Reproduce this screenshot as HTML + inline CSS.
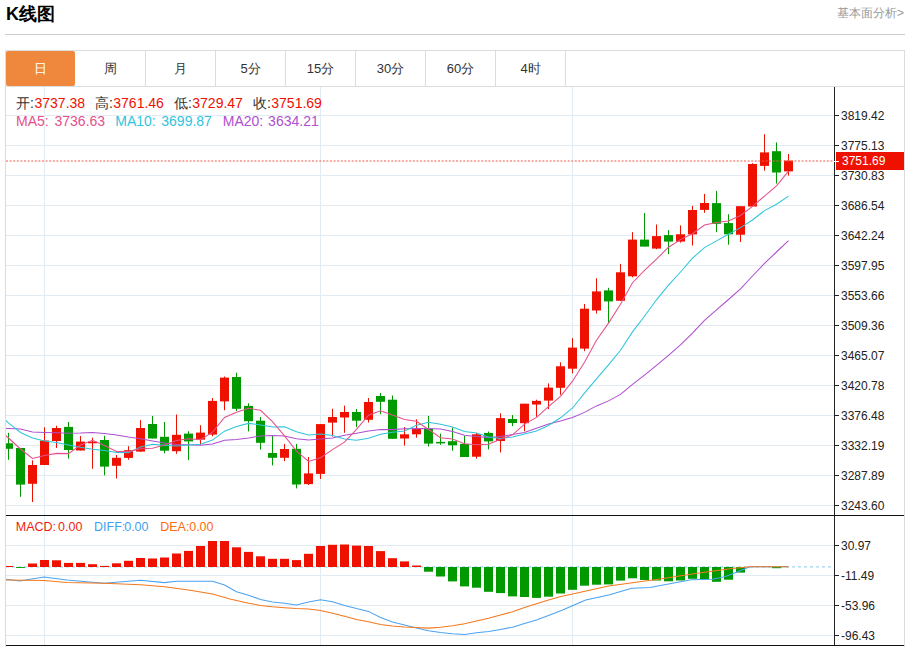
<!DOCTYPE html>
<html><head><meta charset="utf-8">
<style>
html,body{margin:0;padding:0;background:#fff;}
body{width:912px;height:647px;position:relative;overflow:hidden;font-family:"Liberation Sans",sans-serif;}
.title{position:absolute;left:6px;top:3px;font-size:18px;font-weight:bold;color:#000;line-height:22px;}
.more{position:absolute;right:8px;top:5px;font-size:12px;color:#999;line-height:16px;}
.hr{position:absolute;left:5px;top:34px;width:900px;height:1px;background:#cccccc;}
.box{position:absolute;left:5px;top:50px;width:898px;height:596px;border:1px solid #dcdcdc;border-bottom:none;}
.tabs{position:absolute;left:6px;top:51px;height:35px;width:898px;}
.tab{position:absolute;top:0;height:35px;width:69px;border-right:1px solid #dcdcdc;text-align:center;line-height:35px;font-size:13px;color:#333;}
.tab.on{background:#ef873c;color:#fff;border-radius:2px;border-right:none;width:69px;}
.tabline{position:absolute;left:6px;top:86px;width:898px;height:1px;background:#dcdcdc;}
svg{position:absolute;left:0;top:0;}
.ax{font-size:12px;fill:#222;font-family:"Liberation Sans",sans-serif;}
.leg{position:absolute;font-size:13px;line-height:16px;white-space:nowrap;}
.k{color:#333;} .v{color:#ee1100;}
</style></head><body>
<div class="title">K线图</div>
<div class="more">基本面分析&gt;</div>
<div class="hr"></div>
<div class="box"></div>
<svg width="912" height="647" viewBox="0 0 912 647">
<defs><clipPath id="cm"><rect x="6" y="87" width="828" height="428"/></clipPath><clipPath id="cd"><rect x="6" y="516" width="828" height="129"/></clipPath></defs>
<line x1="6" y1="115.5" x2="834" y2="115.5" stroke="#e3ebf2" stroke-width="1"/>
<line x1="6" y1="145.5" x2="834" y2="145.5" stroke="#e3ebf2" stroke-width="1"/>
<line x1="6" y1="175.5" x2="834" y2="175.5" stroke="#e3ebf2" stroke-width="1"/>
<line x1="6" y1="205.5" x2="834" y2="205.5" stroke="#e3ebf2" stroke-width="1"/>
<line x1="6" y1="235.5" x2="834" y2="235.5" stroke="#e3ebf2" stroke-width="1"/>
<line x1="6" y1="265.5" x2="834" y2="265.5" stroke="#e3ebf2" stroke-width="1"/>
<line x1="6" y1="295.5" x2="834" y2="295.5" stroke="#e3ebf2" stroke-width="1"/>
<line x1="6" y1="325.5" x2="834" y2="325.5" stroke="#e3ebf2" stroke-width="1"/>
<line x1="6" y1="355.5" x2="834" y2="355.5" stroke="#e3ebf2" stroke-width="1"/>
<line x1="6" y1="385.5" x2="834" y2="385.5" stroke="#e3ebf2" stroke-width="1"/>
<line x1="6" y1="415.5" x2="834" y2="415.5" stroke="#e3ebf2" stroke-width="1"/>
<line x1="6" y1="445.5" x2="834" y2="445.5" stroke="#e3ebf2" stroke-width="1"/>
<line x1="6" y1="475.5" x2="834" y2="475.5" stroke="#e3ebf2" stroke-width="1"/>
<line x1="6" y1="505.5" x2="834" y2="505.5" stroke="#e3ebf2" stroke-width="1"/>
<line x1="6" y1="545.5" x2="834" y2="545.5" stroke="#e3ebf2" stroke-width="1"/>
<line x1="6" y1="575.5" x2="834" y2="575.5" stroke="#e3ebf2" stroke-width="1"/>
<line x1="6" y1="605.5" x2="834" y2="605.5" stroke="#e3ebf2" stroke-width="1"/>
<line x1="6" y1="635.5" x2="834" y2="635.5" stroke="#e3ebf2" stroke-width="1"/>
<line x1="44.5" y1="87" x2="44.5" y2="645" stroke="#e3ebf2" stroke-width="1"/>
<line x1="320.5" y1="87" x2="320.5" y2="645" stroke="#e3ebf2" stroke-width="1"/>
<line x1="572.5" y1="87" x2="572.5" y2="645" stroke="#e3ebf2" stroke-width="1"/>
<g clip-path="url(#cm)">
<rect x="8.0" y="432.8" width="1" height="27.0" fill="#009900"/>
<rect x="4.0" y="443.3" width="9" height="5.5" fill="#009900"/>
<rect x="20.0" y="448.0" width="1" height="48.9" fill="#009900"/>
<rect x="16.0" y="448.0" width="9" height="36.6" fill="#009900"/>
<rect x="32.0" y="460.3" width="1" height="41.7" fill="#ee1100"/>
<rect x="28.0" y="465.0" width="9" height="18.8" fill="#ee1100"/>
<rect x="44.0" y="427.2" width="1" height="37.8" fill="#ee1100"/>
<rect x="40.0" y="440.5" width="9" height="24.5" fill="#ee1100"/>
<rect x="56.0" y="425.8" width="1" height="22.2" fill="#ee1100"/>
<rect x="52.0" y="428.0" width="9" height="13.0" fill="#ee1100"/>
<rect x="68.0" y="422.0" width="1" height="36.6" fill="#009900"/>
<rect x="64.0" y="426.9" width="9" height="23.1" fill="#009900"/>
<rect x="80.0" y="436.0" width="1" height="14.5" fill="#ee1100"/>
<rect x="76.0" y="441.6" width="9" height="8.9" fill="#ee1100"/>
<rect x="92.0" y="437.7" width="1" height="31.1" fill="#ee1100"/>
<rect x="88.0" y="441.6" width="9" height="1.7" fill="#ee1100"/>
<rect x="104.0" y="435.7" width="1" height="39.6" fill="#009900"/>
<rect x="100.0" y="440.0" width="9" height="26.6" fill="#009900"/>
<rect x="116.0" y="455.0" width="1" height="23.5" fill="#ee1100"/>
<rect x="112.0" y="457.8" width="9" height="8.0" fill="#ee1100"/>
<rect x="128.0" y="446.2" width="1" height="13.5" fill="#ee1100"/>
<rect x="124.0" y="450.2" width="9" height="7.7" fill="#ee1100"/>
<rect x="140.0" y="420.1" width="1" height="31.8" fill="#ee1100"/>
<rect x="136.0" y="428.0" width="9" height="23.6" fill="#ee1100"/>
<rect x="152.0" y="415.9" width="1" height="22.6" fill="#009900"/>
<rect x="148.0" y="424.0" width="9" height="14.5" fill="#009900"/>
<rect x="164.0" y="422.0" width="1" height="31.3" fill="#009900"/>
<rect x="160.0" y="436.8" width="9" height="13.9" fill="#009900"/>
<rect x="176.0" y="414.5" width="1" height="39.3" fill="#ee1100"/>
<rect x="172.0" y="434.8" width="9" height="16.4" fill="#ee1100"/>
<rect x="188.0" y="431.2" width="1" height="28.9" fill="#009900"/>
<rect x="184.0" y="433.6" width="9" height="7.8" fill="#009900"/>
<rect x="200.0" y="425.2" width="1" height="19.6" fill="#ee1100"/>
<rect x="196.0" y="432.6" width="9" height="7.1" fill="#ee1100"/>
<rect x="212.0" y="398.0" width="1" height="38.3" fill="#ee1100"/>
<rect x="208.0" y="400.9" width="9" height="33.7" fill="#ee1100"/>
<rect x="224.0" y="376.5" width="1" height="33.8" fill="#ee1100"/>
<rect x="220.0" y="377.6" width="9" height="23.8" fill="#ee1100"/>
<rect x="236.0" y="372.7" width="1" height="38.3" fill="#009900"/>
<rect x="232.0" y="377.0" width="9" height="31.8" fill="#009900"/>
<rect x="248.0" y="403.3" width="1" height="28.1" fill="#009900"/>
<rect x="244.0" y="405.9" width="9" height="15.3" fill="#009900"/>
<rect x="260.0" y="417.0" width="1" height="32.6" fill="#009900"/>
<rect x="256.0" y="420.7" width="9" height="22.1" fill="#009900"/>
<rect x="272.0" y="435.7" width="1" height="29.7" fill="#009900"/>
<rect x="268.0" y="453.0" width="9" height="4.8" fill="#009900"/>
<rect x="284.0" y="443.9" width="1" height="17.3" fill="#ee1100"/>
<rect x="280.0" y="449.0" width="9" height="8.8" fill="#ee1100"/>
<rect x="296.0" y="443.9" width="1" height="44.5" fill="#009900"/>
<rect x="292.0" y="448.8" width="9" height="35.7" fill="#009900"/>
<rect x="308.0" y="457.0" width="1" height="28.0" fill="#ee1100"/>
<rect x="304.0" y="473.4" width="9" height="10.7" fill="#ee1100"/>
<rect x="320.0" y="424.0" width="1" height="55.0" fill="#ee1100"/>
<rect x="316.0" y="424.1" width="9" height="49.8" fill="#ee1100"/>
<rect x="332.0" y="408.8" width="1" height="27.7" fill="#ee1100"/>
<rect x="328.0" y="417.0" width="9" height="5.6" fill="#ee1100"/>
<rect x="344.0" y="405.6" width="1" height="27.2" fill="#ee1100"/>
<rect x="340.0" y="412.0" width="9" height="5.5" fill="#ee1100"/>
<rect x="356.0" y="409.0" width="1" height="18.1" fill="#009900"/>
<rect x="352.0" y="412.0" width="9" height="8.7" fill="#009900"/>
<rect x="368.0" y="398.0" width="1" height="24.5" fill="#ee1100"/>
<rect x="364.0" y="402.0" width="9" height="17.8" fill="#ee1100"/>
<rect x="380.0" y="393.0" width="1" height="21.2" fill="#009900"/>
<rect x="376.0" y="396.0" width="9" height="5.8" fill="#009900"/>
<rect x="392.0" y="395.5" width="1" height="43.3" fill="#009900"/>
<rect x="388.0" y="399.7" width="9" height="39.1" fill="#009900"/>
<rect x="404.0" y="427.0" width="1" height="18.6" fill="#ee1100"/>
<rect x="400.0" y="434.3" width="9" height="4.2" fill="#ee1100"/>
<rect x="416.0" y="419.3" width="1" height="18.4" fill="#ee1100"/>
<rect x="412.0" y="429.0" width="9" height="5.3" fill="#ee1100"/>
<rect x="428.0" y="415.9" width="1" height="30.6" fill="#009900"/>
<rect x="424.0" y="428.6" width="9" height="15.0" fill="#009900"/>
<rect x="440.0" y="433.7" width="1" height="11.1" fill="#009900"/>
<rect x="436.0" y="441.9" width="9" height="1.5" fill="#009900"/>
<rect x="452.0" y="427.5" width="1" height="23.2" fill="#009900"/>
<rect x="448.0" y="441.2" width="9" height="4.1" fill="#009900"/>
<rect x="464.0" y="436.0" width="1" height="21.0" fill="#009900"/>
<rect x="460.0" y="443.9" width="9" height="13.1" fill="#009900"/>
<rect x="476.0" y="432.9" width="1" height="25.8" fill="#ee1100"/>
<rect x="472.0" y="434.3" width="9" height="22.4" fill="#ee1100"/>
<rect x="488.0" y="431.5" width="1" height="17.9" fill="#009900"/>
<rect x="484.0" y="432.9" width="9" height="8.5" fill="#009900"/>
<rect x="500.0" y="413.3" width="1" height="39.1" fill="#ee1100"/>
<rect x="496.0" y="418.1" width="9" height="22.9" fill="#ee1100"/>
<rect x="512.0" y="415.0" width="1" height="11.1" fill="#009900"/>
<rect x="508.0" y="419.0" width="9" height="4.0" fill="#009900"/>
<rect x="524.0" y="403.7" width="1" height="27.5" fill="#ee1100"/>
<rect x="520.0" y="403.7" width="9" height="19.5" fill="#ee1100"/>
<rect x="536.0" y="399.7" width="1" height="17.0" fill="#ee1100"/>
<rect x="532.0" y="400.9" width="9" height="3.6" fill="#ee1100"/>
<rect x="548.0" y="383.4" width="1" height="25.8" fill="#ee1100"/>
<rect x="544.0" y="387.6" width="9" height="13.0" fill="#ee1100"/>
<rect x="560.0" y="362.3" width="1" height="32.5" fill="#ee1100"/>
<rect x="556.0" y="366.3" width="9" height="21.5" fill="#ee1100"/>
<rect x="572.0" y="338.2" width="1" height="35.1" fill="#ee1100"/>
<rect x="568.0" y="347.6" width="9" height="21.1" fill="#ee1100"/>
<rect x="584.0" y="304.0" width="1" height="47.2" fill="#ee1100"/>
<rect x="580.0" y="308.7" width="9" height="39.9" fill="#ee1100"/>
<rect x="596.0" y="278.3" width="1" height="35.2" fill="#ee1100"/>
<rect x="592.0" y="291.4" width="9" height="19.1" fill="#ee1100"/>
<rect x="608.0" y="287.8" width="1" height="35.1" fill="#009900"/>
<rect x="604.0" y="290.4" width="9" height="11.0" fill="#009900"/>
<rect x="620.0" y="263.9" width="1" height="36.9" fill="#ee1100"/>
<rect x="616.0" y="272.3" width="9" height="28.5" fill="#ee1100"/>
<rect x="632.0" y="232.1" width="1" height="45.2" fill="#ee1100"/>
<rect x="628.0" y="239.6" width="9" height="36.7" fill="#ee1100"/>
<rect x="644.0" y="213.0" width="1" height="33.6" fill="#009900"/>
<rect x="640.0" y="239.6" width="9" height="7.0" fill="#009900"/>
<rect x="656.0" y="224.5" width="1" height="24.7" fill="#ee1100"/>
<rect x="652.0" y="236.1" width="9" height="12.5" fill="#ee1100"/>
<rect x="668.0" y="230.1" width="1" height="24.1" fill="#009900"/>
<rect x="664.0" y="235.1" width="9" height="6.5" fill="#009900"/>
<rect x="680.0" y="225.4" width="1" height="17.2" fill="#ee1100"/>
<rect x="676.0" y="234.3" width="9" height="7.3" fill="#ee1100"/>
<rect x="692.0" y="205.9" width="1" height="39.6" fill="#ee1100"/>
<rect x="688.0" y="210.0" width="9" height="24.4" fill="#ee1100"/>
<rect x="704.0" y="193.9" width="1" height="18.9" fill="#ee1100"/>
<rect x="700.0" y="203.0" width="9" height="6.9" fill="#ee1100"/>
<rect x="716.0" y="190.9" width="1" height="41.3" fill="#009900"/>
<rect x="712.0" y="203.1" width="9" height="20.7" fill="#009900"/>
<rect x="728.0" y="214.2" width="1" height="30.5" fill="#009900"/>
<rect x="724.0" y="223.1" width="9" height="11.2" fill="#009900"/>
<rect x="740.0" y="206.2" width="1" height="35.7" fill="#ee1100"/>
<rect x="736.0" y="206.2" width="9" height="28.5" fill="#ee1100"/>
<rect x="752.0" y="163.2" width="1" height="43.3" fill="#ee1100"/>
<rect x="748.0" y="164.0" width="9" height="42.5" fill="#ee1100"/>
<rect x="764.0" y="134.2" width="1" height="36.5" fill="#ee1100"/>
<rect x="760.0" y="152.4" width="9" height="13.5" fill="#ee1100"/>
<rect x="776.0" y="142.4" width="1" height="41.2" fill="#009900"/>
<rect x="772.0" y="151.2" width="9" height="21.3" fill="#009900"/>
<rect x="788.0" y="154.0" width="1" height="21.6" fill="#ee1100"/>
<rect x="784.0" y="160.6" width="9" height="10.8" fill="#ee1100"/>
<polyline points="-3.5,428.1 8.5,428.6 20.5,429.1 32.5,432.1 44.5,432.4 56.5,432.8 68.5,433.2 80.5,433.1 92.5,432.5 104.5,433.5 116.5,435.0 128.5,437.1 140.5,438.8 152.5,441.0 164.5,443.1 176.5,444.5 188.5,444.8 200.5,445.3 212.5,443.9 224.5,440.2 236.5,439.4 248.5,438.0 260.5,435.9 272.5,435.6 284.5,436.0 296.5,438.8 308.5,440.0 320.5,439.1 332.5,437.9 344.5,435.2 356.5,433.3 368.5,430.9 380.5,429.6 392.5,429.6 404.5,428.8 416.5,428.5 428.5,428.6 440.5,429.1 452.5,431.4 464.5,435.3 476.5,436.6 488.5,437.6 500.5,436.4 512.5,434.6 524.5,432.4 536.5,428.2 548.5,423.9 560.5,421.0 572.5,417.5 584.5,412.4 596.5,405.9 608.5,400.9 620.5,394.4 632.5,384.4 644.5,375.1 656.5,365.4 668.5,355.3 680.5,344.9 692.5,333.1 704.5,320.4 716.5,309.9 728.5,299.5 740.5,288.9 752.5,276.0 764.5,263.4 776.5,252.0 788.5,240.6" fill="none" stroke="#ae4fcf" stroke-width="1.05"/>
<polyline points="-3.5,413.1 8.5,422.8 20.5,432.5 32.5,437.9 44.5,441.1 56.5,442.6 68.5,444.9 80.5,447.3 92.5,449.2 104.5,450.6 116.5,452.4 128.5,452.6 140.5,446.9 152.5,444.3 164.5,445.3 176.5,446.0 188.5,445.1 200.5,444.2 212.5,440.1 224.5,431.2 236.5,426.4 248.5,423.4 260.5,424.9 272.5,426.9 284.5,426.7 296.5,431.7 308.5,434.9 320.5,434.0 332.5,435.6 344.5,439.1 356.5,440.2 368.5,438.3 380.5,434.2 392.5,432.3 404.5,430.9 416.5,425.3 428.5,422.3 440.5,424.3 452.5,427.1 464.5,431.6 476.5,432.9 488.5,436.9 500.5,438.5 512.5,436.9 524.5,433.9 536.5,431.1 548.5,425.5 560.5,417.8 572.5,408.0 584.5,393.2 596.5,378.9 608.5,364.9 620.5,350.3 632.5,331.9 644.5,316.2 656.5,299.8 668.5,285.2 680.5,272.0 692.5,258.2 704.5,247.6 716.5,240.9 728.5,234.2 740.5,227.6 752.5,220.0 764.5,210.6 776.5,204.2 788.5,196.1" fill="none" stroke="#2fc4dc" stroke-width="1.05"/>
<polyline points="-3.5,427.0 8.5,438.0 20.5,449.0 32.5,458.5 44.5,455.6 56.5,453.4 68.5,453.6 80.5,445.0 92.5,440.3 104.5,445.6 116.5,451.5 128.5,451.6 140.5,448.8 152.5,448.2 164.5,445.0 176.5,440.4 188.5,438.7 200.5,439.6 212.5,432.1 224.5,417.5 236.5,412.3 248.5,408.2 260.5,410.3 272.5,421.6 284.5,435.9 296.5,451.1 308.5,461.5 320.5,457.8 332.5,449.6 344.5,442.2 356.5,429.4 368.5,415.2 380.5,410.7 392.5,415.1 404.5,419.5 416.5,421.2 428.5,429.5 440.5,437.8 452.5,439.1 464.5,443.7 476.5,444.7 488.5,444.3 500.5,439.2 512.5,434.8 524.5,424.1 536.5,417.4 548.5,406.7 560.5,396.3 572.5,381.2 584.5,362.2 596.5,340.3 608.5,323.1 620.5,304.3 632.5,282.7 644.5,270.3 656.5,259.2 668.5,247.2 680.5,239.6 692.5,233.7 704.5,225.0 716.5,222.5 728.5,221.1 740.5,215.5 752.5,206.3 764.5,196.1 776.5,185.9 788.5,171.1" fill="none" stroke="#e5508b" stroke-width="1.05"/>
<line x1="6" y1="161" x2="834" y2="161" stroke="#f25a4a" stroke-width="1.2" stroke-dasharray="2,1.6"/>
</g><g clip-path="url(#cd)">
<line x1="6" y1="566.8" x2="832" y2="566.8" stroke="#9ed6ee" stroke-width="1.3" stroke-dasharray="3,3"/>
<rect x="4.0" y="566.0" width="9" height="1.0" fill="#ee1100"/>
<rect x="16.0" y="567" width="9" height="0.9" fill="#009900"/>
<rect x="28.0" y="563.5" width="9" height="3.5" fill="#ee1100"/>
<rect x="40.0" y="560.0" width="9" height="7.0" fill="#ee1100"/>
<rect x="52.0" y="560.3" width="9" height="6.7" fill="#ee1100"/>
<rect x="64.0" y="562.9" width="9" height="4.1" fill="#ee1100"/>
<rect x="76.0" y="562.9" width="9" height="4.1" fill="#ee1100"/>
<rect x="88.0" y="564.2" width="9" height="2.8" fill="#ee1100"/>
<rect x="100.0" y="565.9" width="9" height="1.1" fill="#ee1100"/>
<rect x="112.0" y="563.3" width="9" height="3.7" fill="#ee1100"/>
<rect x="124.0" y="560.8" width="9" height="6.2" fill="#ee1100"/>
<rect x="136.0" y="558.0" width="9" height="9.0" fill="#ee1100"/>
<rect x="148.0" y="558.5" width="9" height="8.5" fill="#ee1100"/>
<rect x="160.0" y="557.5" width="9" height="9.5" fill="#ee1100"/>
<rect x="172.0" y="553.5" width="9" height="13.5" fill="#ee1100"/>
<rect x="184.0" y="550.9" width="9" height="16.1" fill="#ee1100"/>
<rect x="196.0" y="546.0" width="9" height="21.0" fill="#ee1100"/>
<rect x="208.0" y="541.0" width="9" height="26.0" fill="#ee1100"/>
<rect x="220.0" y="541.0" width="9" height="26.0" fill="#ee1100"/>
<rect x="232.0" y="547.3" width="9" height="19.7" fill="#ee1100"/>
<rect x="244.0" y="551.9" width="9" height="15.1" fill="#ee1100"/>
<rect x="256.0" y="556.3" width="9" height="10.7" fill="#ee1100"/>
<rect x="268.0" y="558.8" width="9" height="8.2" fill="#ee1100"/>
<rect x="280.0" y="558.8" width="9" height="8.2" fill="#ee1100"/>
<rect x="292.0" y="560.1" width="9" height="6.9" fill="#ee1100"/>
<rect x="304.0" y="553.8" width="9" height="13.2" fill="#ee1100"/>
<rect x="316.0" y="546.0" width="9" height="21.0" fill="#ee1100"/>
<rect x="328.0" y="544.8" width="9" height="22.2" fill="#ee1100"/>
<rect x="340.0" y="544.5" width="9" height="22.5" fill="#ee1100"/>
<rect x="352.0" y="545.6" width="9" height="21.4" fill="#ee1100"/>
<rect x="364.0" y="546.0" width="9" height="21.0" fill="#ee1100"/>
<rect x="376.0" y="551.1" width="9" height="15.9" fill="#ee1100"/>
<rect x="388.0" y="558.2" width="9" height="8.8" fill="#ee1100"/>
<rect x="400.0" y="561.4" width="9" height="5.6" fill="#ee1100"/>
<rect x="412.0" y="565.5" width="9" height="1.5" fill="#ee1100"/>
<rect x="424.0" y="567" width="9" height="4.7" fill="#009900"/>
<rect x="436.0" y="567" width="9" height="9.5" fill="#009900"/>
<rect x="448.0" y="567" width="9" height="14.4" fill="#009900"/>
<rect x="460.0" y="567" width="9" height="19.4" fill="#009900"/>
<rect x="472.0" y="567" width="9" height="20.7" fill="#009900"/>
<rect x="484.0" y="567" width="9" height="24.8" fill="#009900"/>
<rect x="496.0" y="567" width="9" height="26.1" fill="#009900"/>
<rect x="508.0" y="567" width="9" height="29.4" fill="#009900"/>
<rect x="520.0" y="567" width="9" height="30.0" fill="#009900"/>
<rect x="532.0" y="567" width="9" height="30.9" fill="#009900"/>
<rect x="544.0" y="567" width="9" height="29.7" fill="#009900"/>
<rect x="556.0" y="567" width="9" height="26.5" fill="#009900"/>
<rect x="568.0" y="567" width="9" height="22.8" fill="#009900"/>
<rect x="580.0" y="567" width="9" height="18.7" fill="#009900"/>
<rect x="592.0" y="567" width="9" height="17.7" fill="#009900"/>
<rect x="604.0" y="567" width="9" height="17.4" fill="#009900"/>
<rect x="616.0" y="567" width="9" height="13.6" fill="#009900"/>
<rect x="628.0" y="567" width="9" height="11.3" fill="#009900"/>
<rect x="640.0" y="567" width="9" height="13.0" fill="#009900"/>
<rect x="652.0" y="567" width="9" height="13.5" fill="#009900"/>
<rect x="664.0" y="567" width="9" height="14.3" fill="#009900"/>
<rect x="676.0" y="567" width="9" height="13.5" fill="#009900"/>
<rect x="688.0" y="567" width="9" height="11.8" fill="#009900"/>
<rect x="700.0" y="567" width="9" height="12.2" fill="#009900"/>
<rect x="712.0" y="567" width="9" height="14.8" fill="#009900"/>
<rect x="724.0" y="567" width="9" height="12.7" fill="#009900"/>
<rect x="736.0" y="567" width="9" height="5.6" fill="#009900"/>
<rect x="772.0" y="567" width="9" height="1.2" fill="#009900"/>
<polyline points="-3.5,579.0 6,579.3 19.7,581 44,577.1 67,580 104,583.3 140.5,580.2 164.5,582.6 176.5,581.3 212.5,581.3 224.5,585.1 236.5,591.7 248.5,595.2 260.5,599.5 272.5,602 284.5,603.2 296.5,604.9 308.5,602 320.5,599.8 332.5,601.7 344.5,605.4 356.5,608.6 368.5,611.4 380.5,617.5 392.5,622 404.5,625.1 416.5,628.1 428.5,630.7 440.5,632.6 452.5,633.7 464.5,634.4 476.5,632.7 488.5,631.6 500.5,629.4 512.5,627.2 524.5,623.4 536.5,620.1 548.5,615.4 562.6,609.9 585.7,600 608.7,595.1 631.7,588.2 650,587.4 691,579.7 712.5,579.3 725.6,576.4 750,566.8 788.5,566.8" fill="none" stroke="#4aa3f0" stroke-width="1.05"/>
<polyline points="-3.5,580 6,580 44,580.4 67,582.4 104,583.3 140.5,584.8 164.5,586.7 188.5,590 212.5,594.1 230,598.9 248.5,603.2 260.5,605.4 272.5,606.7 284.5,607.7 296.5,608.6 308.5,609.1 320.5,610.6 332.5,613.2 344.5,616.2 356.5,619.4 368.5,621.8 380.5,624.6 392.5,626.1 404.5,627 416.5,627.5 428.5,628.1 440.5,627.2 452.5,625.7 464.5,623.8 476.5,621 488.5,618.2 500.5,615 512.5,611.7 524.5,607.6 536.5,603.7 548.5,600.1 560,596.8 572.5,594 608.7,586 660,579.1 699,573 732,568.5 750,566.8 788.5,566.8" fill="none" stroke="#f5781e" stroke-width="1.05"/>
</g>
<rect x="834" y="87" width="70" height="559" fill="#fff"/>
<line x1="834.5" y1="87" x2="834.5" y2="646" stroke="#222" stroke-width="1"/>
<line x1="835" y1="115.5" x2="839" y2="115.5" stroke="#222" stroke-width="1"/>
<text x="841" y="119.5" class="ax">3819.42</text>
<line x1="835" y1="145.5" x2="839" y2="145.5" stroke="#222" stroke-width="1"/>
<text x="841" y="149.5" class="ax">3775.13</text>
<line x1="835" y1="175.5" x2="839" y2="175.5" stroke="#222" stroke-width="1"/>
<text x="841" y="179.5" class="ax">3730.83</text>
<line x1="835" y1="205.5" x2="839" y2="205.5" stroke="#222" stroke-width="1"/>
<text x="841" y="209.5" class="ax">3686.54</text>
<line x1="835" y1="235.5" x2="839" y2="235.5" stroke="#222" stroke-width="1"/>
<text x="841" y="239.5" class="ax">3642.24</text>
<line x1="835" y1="265.5" x2="839" y2="265.5" stroke="#222" stroke-width="1"/>
<text x="841" y="269.5" class="ax">3597.95</text>
<line x1="835" y1="295.5" x2="839" y2="295.5" stroke="#222" stroke-width="1"/>
<text x="841" y="299.5" class="ax">3553.66</text>
<line x1="835" y1="325.5" x2="839" y2="325.5" stroke="#222" stroke-width="1"/>
<text x="841" y="329.5" class="ax">3509.36</text>
<line x1="835" y1="355.5" x2="839" y2="355.5" stroke="#222" stroke-width="1"/>
<text x="841" y="359.5" class="ax">3465.07</text>
<line x1="835" y1="385.5" x2="839" y2="385.5" stroke="#222" stroke-width="1"/>
<text x="841" y="389.5" class="ax">3420.78</text>
<line x1="835" y1="415.5" x2="839" y2="415.5" stroke="#222" stroke-width="1"/>
<text x="841" y="419.5" class="ax">3376.48</text>
<line x1="835" y1="445.5" x2="839" y2="445.5" stroke="#222" stroke-width="1"/>
<text x="841" y="449.5" class="ax">3332.19</text>
<line x1="835" y1="475.5" x2="839" y2="475.5" stroke="#222" stroke-width="1"/>
<text x="841" y="479.5" class="ax">3287.89</text>
<line x1="835" y1="505.5" x2="839" y2="505.5" stroke="#222" stroke-width="1"/>
<text x="841" y="509.5" class="ax">3243.60</text>
<line x1="835" y1="545.5" x2="839" y2="545.5" stroke="#222" stroke-width="1"/>
<text x="841" y="549.5" class="ax">30.97</text>
<line x1="835" y1="575.5" x2="839" y2="575.5" stroke="#222" stroke-width="1"/>
<text x="841" y="579.5" class="ax">-11.49</text>
<line x1="835" y1="605.5" x2="839" y2="605.5" stroke="#222" stroke-width="1"/>
<text x="841" y="609.5" class="ax">-53.96</text>
<line x1="835" y1="635.5" x2="839" y2="635.5" stroke="#222" stroke-width="1"/>
<text x="841" y="639.5" class="ax">-96.43</text>
<line x1="6" y1="515.5" x2="904" y2="515.5" stroke="#111" stroke-width="1"/>
<line x1="6" y1="645.5" x2="904" y2="645.5" stroke="#111" stroke-width="1"/>
<rect x="836" y="152" width="68" height="18" fill="#ee1100"/>
<line x1="834" y1="161.5" x2="839" y2="161.5" stroke="#fff" stroke-width="1"/>
<text x="842" y="164.7" class="ax" fill="#fff" style="fill:#fff">3751.69</text>
</svg>
<div class="tabs">
<div class="tab on" style="left:0">日</div>
<div class="tab" style="left:70px">周</div>
<div class="tab" style="left:140px">月</div>
<div class="tab" style="left:210px">5分</div>
<div class="tab" style="left:280px">15分</div>
<div class="tab" style="left:350px">30分</div>
<div class="tab" style="left:420px">60分</div>
<div class="tab" style="left:490px">4时</div>
</div>
<div class="tabline"></div>
<svg width="912" height="647" style="position:absolute;left:0;top:0">
<g font-family="Liberation Sans, sans-serif" font-size="14">
<text x="16" y="108" fill="#333">开:</text><text x="34.5" y="108" fill="#ee1100">3737.38</text>
<text x="95" y="108" fill="#333">高:</text><text x="113.3" y="108" fill="#ee1100">3761.46</text>
<text x="174" y="108" fill="#333">低:</text><text x="192.3" y="108" fill="#ee1100">3729.47</text>
<text x="253" y="108" fill="#333">收:</text><text x="271.3" y="108" fill="#ee1100">3751.69</text>
<text x="16" y="126" fill="#e5508b">MA5:</text><text x="54.5" y="126" fill="#e5508b">3736.63</text>
<text x="115.3" y="126" fill="#2fc4dc">MA10:</text><text x="161.3" y="126" fill="#2fc4dc">3699.87</text>
<text x="222.8" y="126" fill="#ae4fcf">MA20:</text><text x="268.1" y="126" fill="#ae4fcf">3634.21</text>
</g>
<g font-family="Liberation Sans, sans-serif" font-size="12.5">
<text x="15.8" y="530.6" fill="#f01e0e">MACD:</text><text x="58" y="530.6" fill="#f01e0e">0.00</text>
<text x="94" y="530.6" fill="#3f9ff0">DIFF:</text><text x="124.2" y="530.6" fill="#3f9ff0">0.00</text>
<text x="160.2" y="530.6" fill="#ff6a0a">DEA:</text><text x="189.2" y="530.6" fill="#ff6a0a">0.00</text>
</g>
</svg>
</body></html>
